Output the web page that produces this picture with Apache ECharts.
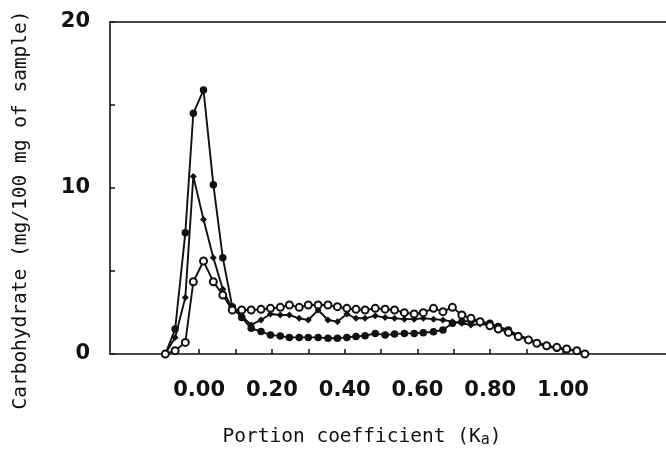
<!DOCTYPE html>
<html>
<head>
<meta charset="utf-8">
<script src="https://cdn.jsdelivr.net/npm/echarts@6/dist/echarts.min.js"></script>
<style>html,body{margin:0;padding:0;background:#fff;}#c{width:666px;height:458px;}</style>
</head>
<body>
<div id="c"></div>
<script>
// Portion coefficient (Ka) positions of the fractions
var kav = [-0.093,-0.066,-0.038,-0.016,0.012,0.039,0.065,0.091,0.117,0.143,0.170,0.196,0.223,0.248,0.275,0.300,0.327,0.354,0.380,0.406,0.431,0.456,0.484,0.511,0.537,0.564,0.591,0.616,0.644,0.670,0.696,0.722,0.747,0.772,0.799,0.822,0.850,0.877,0.905,0.928,0.955,0.983,1.010,1.038,1.060];
// Large filled circles (tallest peak)
var seriesA = [0,1.5,7.3,14.5,15.9,10.2,5.8,2.85,2.2,1.55,1.35,1.15,1.08,1.0,1.0,1.0,1.0,0.95,0.95,1.0,1.05,1.1,1.24,1.14,1.2,1.24,1.24,1.28,1.34,1.45,1.85,1.95,2.0,1.95,1.85,1.65,1.45,1.1,0.85,0.65,0.45,0.35,0.25,0.2,0];
// Small filled markers (middle peak)
var seriesB = [0,1.0,3.4,10.7,8.1,5.8,3.9,2.7,2.3,1.75,2.05,2.41,2.35,2.35,2.15,2.05,2.65,2.05,1.95,2.41,2.15,2.15,2.3,2.2,2.15,2.1,2.1,2.15,2.1,2.05,1.95,1.85,1.75,1.8,1.75,1.6,1.4,1.15,0.9,0.7,0.5,0.35,0.3,0.2,0];
// Open circles (lowest peak)
var seriesC = [0,0.2,0.7,4.35,5.6,4.35,3.55,2.65,2.65,2.65,2.69,2.75,2.81,2.95,2.81,2.95,2.95,2.95,2.85,2.75,2.69,2.65,2.75,2.7,2.65,2.49,2.41,2.49,2.75,2.55,2.81,2.35,2.15,1.95,1.7,1.5,1.3,1.05,0.85,0.65,0.5,0.4,0.3,0.2,0];
var xLabelValues = [0,0.2,0.4,0.6,0.8,1.0];
var xTickValues = [0,0.1,0.2,0.3,0.4,0.5,0.6,0.7,0.8,0.9,1.0];
var yTickValues = [0,5,10,15,20];
var yLabelValues = [0,10,20];

function pairs(ys){ return ys.map(function(v,i){ return [kav[i], v]; }); }

var chart = echarts.init(document.getElementById('c'));
var ink = '#111';
var labelFont = '"DejaVu Sans", sans-serif';
var titleFont = '19.5px "DejaVu Sans Mono", monospace';
chart.setOption({
  backgroundColor: '#fff',
  animation: false,
  grid: { left: 110, right: 0, top: 22, bottom: 104 },
  xAxis: [{
    type: 'value', min: -0.245, max: 1.283,
    axisLine: { show: true, onZero: false, lineStyle: { color: ink, width: 1.6 } },
    axisTick: { show: true, inside: true, length: 5, customValues: xTickValues, lineStyle: { color: ink, width: 1.5 } },
    axisLabel: { show: true, customValues: xLabelValues, margin: 26, color: ink,
      fontFamily: labelFont, fontWeight: 'bold', fontSize: 21,
      formatter: function(v){ return v.toFixed(2); } },
    splitLine: { show: false }
  }, {
    type: 'value', position: 'top', min: -0.245, max: 1.283,
    axisLine: { show: true, onZero: false, lineStyle: { color: ink, width: 1.6 } },
    axisTick: { show: false }, axisLabel: { show: false }, splitLine: { show: false }
  }],
  yAxis: {
    type: 'value', min: 0, max: 20,
    axisLine: { show: true, onZero: false, lineStyle: { color: ink, width: 1.6 } },
    axisTick: { show: true, inside: true, length: 5, customValues: yTickValues, lineStyle: { color: ink, width: 1.5 } },
    axisLabel: { show: true, customValues: yLabelValues, margin: 20, color: ink,
      fontFamily: labelFont, fontWeight: 'bold', fontSize: 21 },
    splitLine: { show: false }
  },
  series: [{
    type: 'line', data: pairs(seriesA), symbol: 'circle', symbolSize: 7.5,
    itemStyle: { color: ink }, lineStyle: { color: ink, width: 1.9 }, z: 3
  }, {
    type: 'line', data: pairs(seriesB), symbol: 'diamond', symbolSize: 7,
    itemStyle: { color: ink }, lineStyle: { color: ink, width: 1.9 }, z: 4
  }, {
    type: 'line', data: pairs(seriesC), symbol: 'emptyCircle', symbolSize: 7,
    itemStyle: { color: ink, borderWidth: 1.5 }, lineStyle: { color: ink, width: 1.9 }, z: 5
  }],
  graphic: [{
    type: 'text', x: 21, y: 210, rotation: Math.PI / 2,
    style: { text: 'Carbohydrate (mg/100 mg of sample)', fill: ink,
      font: titleFont, align: 'center', verticalAlign: 'middle' }
  }, {
    type: 'text', x: 362, y: 437,
    style: { text: 'Portion coefficient (K{sub|a})', fill: ink,
      font: titleFont, align: 'center', verticalAlign: 'middle',
      rich: { sub: { font: '15px "DejaVu Sans Mono", monospace', fill: ink, verticalAlign: 'bottom', padding: [6, 0, 0, 0] } } }
  }]
});
</script>
</body>
</html>
